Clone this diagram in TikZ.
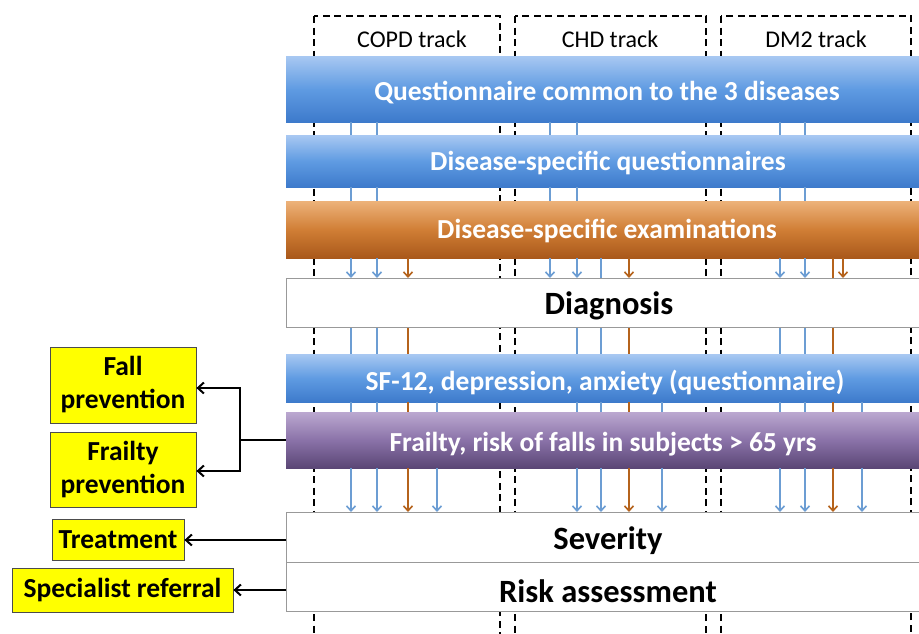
\documentclass[tikz,border=0pt]{standalone}
\usepackage{fontspec}
\setmainfont{Carlito}
\usetikzlibrary{arrows.meta}
\definecolor{bluetop}{HTML}{A8C8F2}
\definecolor{bluemid}{HTML}{5F9BE2}
\definecolor{bluebot}{HTML}{3D7ACB}
\definecolor{orgtop}{HTML}{EDB27A}
\definecolor{orgmid}{HTML}{D07E35}
\definecolor{orgbot}{HTML}{A9581A}
\definecolor{purtop}{HTML}{BBA8D0}
\definecolor{purmid}{HTML}{8A72A8}
\definecolor{purbot}{HTML}{5A4675}
\definecolor{arrblue}{HTML}{6C9DD3}
\definecolor{arrorg}{HTML}{B5631C}
\definecolor{yelbox}{HTML}{FFFF00}
\tikzset{
  band/.style={anchor=north west, minimum width=660pt, inner sep=0pt, draw=none},
  blueband/.style={band, top color=bluetop, bottom color=bluebot, middle color=bluemid},
  orgband/.style={band, top color=orgtop, bottom color=orgbot, middle color=orgmid},
  purband/.style={band, top color=purtop, bottom color=purbot, middle color=purmid},
  whiteband/.style={band, fill=white, draw=gray!80, line width=1pt},
  bandtext/.style={font=\fontsize{27.5}{30}\selectfont\bfseries, text=white},
  stagetext/.style={font=\fontsize{32.5}{36}\selectfont\bfseries, text=black},
  track/.style={draw=black, dashed, dash pattern=on 7pt off 4.5pt, line width=2pt},
  tracklabel/.style={font=\fontsize{24}{27}\selectfont},
  yel/.style={draw=black!70, fill=yelbox, line width=0.8pt, font=\fontsize{27.5}{33}\selectfont\bfseries, align=center, inner sep=0pt},
  bar/.style={arrblue, line width=1.6pt},
  obar/.style={arrorg, line width=1.6pt},
  barr/.style={bar, -{Straight Barb[length=5pt,width=9pt]}},
  oarr/.style={obar, -{Straight Barb[length=5pt,width=9pt]}},
  link/.style={black, line width=2pt, -{Straight Barb[length=6pt,width=11pt]}}
}
\begin{document}
\begin{tikzpicture}[x=1pt,y=-1pt]
\clip (0,0) rectangle (919,633);
\fill[white] (0,0) rectangle (919,633);
% tracks
\draw[track] (314,16) rectangle (500,660);
\draw[track] (515,16) rectangle (706,660);
\draw[track] (721,16) rectangle (911,660);
\node[tracklabel] (tcopd) at (412,39) {COPD track};
\node[tracklabel] (tchd) at (610,39) {CHD track};
\node[tracklabel] (tdm) at (816,39) {DM2 track};
% column coordinates
\foreach \n/\x in {a1/351,a2/377,a3/408,a4/437,b0/550,b1/577,b2/601,b3/629,b4/662,c1/780,c2/805,c3/833,c3b/843,c4/862}
  \coordinate (\n) at (\x,0);
% bands
\node[blueband, minimum height=66pt] (q) at (286,56) {};
\node[bandtext] (qt) at (607,93) {Questionnaire common to the 3 diseases};
\node[blueband, minimum height=52pt] (dq) at (286,135) {};
\node[bandtext] (dqt) at (608,163) {Disease-specific questionnaires};
\node[orgband, minimum height=57pt] (de) at (286,201) {};
\node[bandtext] (det) at (607,231) {Disease-specific examinations};
\node[whiteband, minimum height=49pt] (dg) at (286,278) {};
\node[stagetext] (dgt) at (609,306) {Diagnosis};
\node[blueband, minimum height=48pt] (sf) at (286,354) {};
\node[bandtext] (sft) at (605,382) {SF-12, depression, anxiety (questionnaire)};
\node[purband, minimum height=56pt] (fr) at (286,412) {};
\node[bandtext] (frt) at (603,444) {Frailty, risk of falls in subjects > 65 yrs};
\node[whiteband, minimum height=50pt] (sv) at (286,512) {};
\node[stagetext] (svt) at (608,541) {Severity};
\node[whiteband, minimum height=49pt] (ra) at (286,562) {};
\node[stagetext] (rat) at (608,591) {Risk assessment};
% connectors q -> dq -> de
\foreach \c in {a1,a2,b0,b1,c1,c2}{
  \draw[bar] (q.south -| \c) -- (dq.north -| \c);
  \draw[bar] (dq.south -| \c) -- (de.north -| \c);
  \draw[barr] (de.south -| \c) -- (dg.north -| \c);
}
\draw[bar] (de.south -| b2) -- (dg.north -| b2);
\draw[obar] (de.south -| c3) -- (dg.north -| c3);
\foreach \c in {a3,b3,c3b}
  \draw[oarr] (de.south -| \c) -- (dg.north -| \c);
% dg -> sf -> fr -> sv
\foreach \c in {a1,a2,b1,b2,c1,c2}{
  \draw[bar] (dg.south -| \c) -- (sf.north -| \c);
  \draw[bar] (sf.south -| \c) -- (fr.north -| \c);
  \draw[barr] (fr.south -| \c) -- (sv.north -| \c);
}
\foreach \c in {a3,b3,c3}{
  \draw[obar] (dg.south -| \c) -- (sf.north -| \c);
  \draw[obar] (sf.south -| \c) -- (fr.north -| \c);
  \draw[oarr] (fr.south -| \c) -- (sv.north -| \c);
}
\foreach \c in {a4,b4,c4}{
  \draw[bar] (sf.south -| \c) -- (fr.north -| \c);
  \draw[barr] (fr.south -| \c) -- (sv.north -| \c);
}
% left boxes
\node[yel, minimum width=146pt, minimum height=76pt] (fp) at (123,385) {Fall\\prevention};
\node[yel, minimum width=146pt, minimum height=75pt] (fy) at (123,469.5) {Frailty\\prevention};
\node[yel, minimum width=132pt, minimum height=41pt] (tr) at (118,540) {Treatment};
\node[yel, minimum width=221pt, minimum height=44pt] (sr) at (122.5,590) {Specialist referral};
\coordinate (j) at (240,440);
\draw[black, line width=2pt] (fr.west |- j) -- (j);
\draw[link] (j) |- (fp.east |- 0,388);
\draw[link] (j) |- (fy.east |- 0,471);
\draw[link] (sv.west |- tr) -- (tr.east);
\draw[link] (ra.west |- sr) -- (sr.east);
\end{tikzpicture}
\end{document}
